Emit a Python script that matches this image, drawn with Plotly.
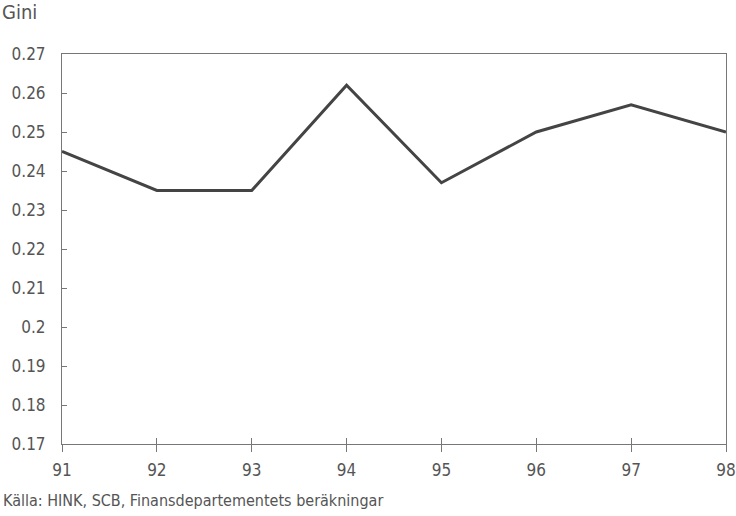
import plotly.graph_objects as go

years = [91, 92, 93, 94, 95, 96, 97, 98]
gini = [0.245, 0.235, 0.235, 0.262, 0.237, 0.250, 0.257, 0.250]
y_ticks = [0.17, 0.18, 0.19, 0.2, 0.21, 0.22, 0.23, 0.24, 0.25, 0.26, 0.27]
y_labels = ["0.17", "0.18", "0.19", "0.2", "0.21", "0.22", "0.23", "0.24", "0.25", "0.26", "0.27"]

FONT = "Liberation Sans Narrow, DejaVu Sans Condensed, Arial Narrow, sans-serif"
TXT = "#555555"

fig = go.Figure()
fig.add_trace(go.Scatter(x=years, y=gini, mode="lines",
                         line=dict(color="#444444", width=3), showlegend=False))
# invisible trace on overlay axis for inside x ticks
fig.add_trace(go.Scatter(x=years, y=gini, mode="lines", xaxis="x2",
                         line=dict(color="rgba(0,0,0,0)", width=0), showlegend=False,
                         hoverinfo="skip"))

fig.update_layout(
    width=736, height=516,
    margin=dict(l=62, r=10, t=54, b=72, autoexpand=False),
    paper_bgcolor="white", plot_bgcolor="white",
    font=dict(family=FONT, size=17, color=TXT),
    xaxis=dict(range=[91, 98], tickvals=years, ticktext=[str(y) for y in years],
               showgrid=False, zeroline=False, showline=True, linecolor="#777777",
               linewidth=1, mirror=True, ticks="outside", ticklen=7, automargin=False,
               tickcolor="#777777", ticklabelstandoff=4,
               tickfont=dict(family=FONT, size=17, color=TXT)),
    xaxis2=dict(range=[91, 98], tickvals=years, overlaying="x", side="bottom",
                showticklabels=False, showgrid=False, zeroline=False, showline=False,
                ticks="inside", ticklen=6, tickcolor="#777777", automargin=False),
    yaxis=dict(range=[0.17, 0.27], tickvals=y_ticks, ticktext=y_labels,
               showgrid=False, zeroline=False, showline=True, linecolor="#777777",
               linewidth=1, mirror=True, ticks="inside", ticklen=5, automargin=False,
               tickcolor="#777777", ticklabelstandoff=12,
               tickfont=dict(family=FONT, size=17, color=TXT)),
    annotations=[
        dict(text="Gini", xref="paper", yref="paper", x=0, y=1,
             xshift=-62, yshift=56, xanchor="left", yanchor="top",
             showarrow=False, font=dict(family=FONT, size=20, color=TXT)),
        dict(text="Källa: HINK, SCB, Finansdepartementets beräkningar",
             xref="paper", yref="paper", x=0, y=0, xshift=-61, yshift=-45,
             xanchor="left", yanchor="top", showarrow=False,
             font=dict(family=FONT, size=16, color=TXT)),
    ],
)

fig.write_html("out.html", config={"displayModeBar": False},
               post_script="document.body.style.margin='0';")
